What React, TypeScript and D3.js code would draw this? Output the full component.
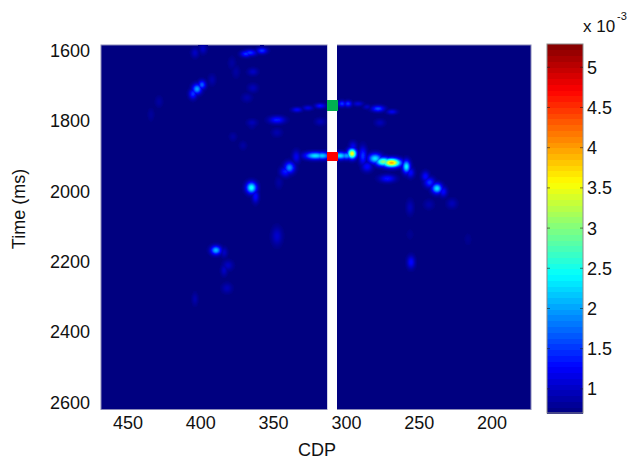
import React from "react";
import * as d3 from "d3";

const xTicks = [450, 400, 350, 300, 250, 200];
const yTicks = [1600, 1800, 2000, 2200, 2400, 2600];
const barTicks = [1, 1.5, 2, 2.5, 3, 3.5, 4, 4.5, 5];
const cMin = 0.7;
const cMax = 5.29;

// Amplitude anomalies (x 10^-3) read from the section
const blobCdp = [
  // main bright arc
  321.4, 316.7, 304.5, 299.9, 296.1, 288.7, 285.8, 280.3, 274.6, 269, 271.8, 258.8, 256, 245.7, 242.9, 237.8, 233.5, 339.1, 341.9, 334.4, 365.2, 362.4,
  // upper arc
  333.9, 326.4, 318, 303, 298.9, 292, 285.9, 278.3, 268.7,
  // scattered upper
  347.7, 364.8, 318, 277, 347.7, 295.5, 405.4, 402.6, 399.2, 366.2, 369, 358, 404, 398.5, 364.2, 364.2, 368.3, 378.6, 375.8, 392.3, 428.7, 434.2, 364.8, 377.9, 371,
  // scattered lower
  347.7, 389.6, 384, 381.3, 384, 382, 404, 346.3, 243.3, 227.5, 256.3, 255.6, 216.5, 256.3];
const blobTime = [
  1899, 1899, 1899, 1899, 1893, 1899, 1930, 1907, 1916, 1919, 1964, 1930, 1947, 1958, 1975, 1992, 2001, 1933, 1944, 1902, 1990, 2015,
  1768, 1763, 1757, 1751, 1751, 1751, 1760, 1765, 1774,
  1797, 1805, 1802, 1805, 1833, 1873, 1723, 1709, 1697, 1606, 1609, 1600, 1606, 1595, 1660, 1706, 1734, 1635, 1660, 1683, 1745, 1782, 1811, 1845, 1870,
  2128, 2168, 2174, 2211, 2225, 2276, 2307, 1975, 2038, 2035, 2046, 2202, 2137, 2123];
const blobAmp = [
  2.3, 2.2, 2.3, 2.0, 3.6, 1.5, 1.3, 2.3, 3, 3.95, 1.35, 2.4, 1.3, 1.3, 1.5, 2.3, 1.3, 1.9, 1.4, 1.2, 2.5, 1.3,
  1.25, 1.15, 1.35, 1.5, 1.5, 1.1, 1.0, 1.6, 1.2,
  1.4, 0.95, 0.95, 0.95, 0.9, 1.2, 1.5, 2.0, 1.7, 1.5, 1.5, 1.5, 1.0, 1.0, 1.0, 0.95, 0.9, 0.85, 0.85, 0.9, 0.85, 0.82, 0.85, 0.85, 0.85,
  1.05, 2.1, 1.0, 1.0, 1.0, 0.95, 0.9, 0.85, 0.88, 0.95, 0.95, 1.3, 0.78, 0.78];
const blobSpreadCdp = [
  4, 3, 3, 2.5, 1.7, 1.5, 2, 2.6, 3, 3.5, 3, 1.5, 1.5, 1.5, 2, 2, 1.5, 2, 2, 1.5, 2, 1.3,
  2, 2, 2, 1.5, 1.5, 2, 1.5, 2.5, 2,
  3, 2, 2, 2, 2, 1.5, 1.5, 1.8, 1.5, 2.5, 2, 2, 1.5, 1.5, 2, 2, 2, 1.5, 1.5, 1.5, 1.5, 1.3, 1.5, 1.5, 1.5,
  2, 2, 1.3, 2, 1.3, 2, 1.2, 1.5, 2, 2, 1.5, 1.5, 1.5, 1.5];
const blobSpreadTime = [
  6, 6, 6, 6, 8, 14, 8, 8, 7, 7, 6, 10, 8, 8, 8, 8, 8, 9, 8, 10, 9, 10,
  4, 4, 4, 5, 5, 4, 4, 5, 4,
  6, 6, 6, 6, 7, 8, 8, 8, 7, 5, 5, 5, 8, 8, 6, 7, 7, 10, 10, 9, 9, 10, 7, 7, 7,
  14, 7, 8, 8, 9, 8, 10, 10, 8, 8, 12, 10, 10, 9];
const blobWidthGain = 1.2;

const stops = d3.scaleLinear<string>()
  .domain([0, 0.125, 0.375, 0.625, 0.875, 1])
  .range(["#000080", "#0000ff", "#00ffff", "#ffff00", "#ff0000", "#800000"])
  .interpolate(d3.interpolateRgb)
  .clamp(true);
const BAR_STEPS = d3.range(64);

export default function App() {
  const left = 101, right = 531, top = 45, bottom = 409.5;
  const x = d3.scaleLinear().domain([450, 200]).range([128, 492]);
  const y = d3.scaleLinear().domain([1600, 2600]).range([50.7, 402]);
  const c = d3.scaleLinear().domain([cMin, cMax]).range([413, 44]);
  const colorOf = (v: number) => stops((v - cMin) / (cMax - cMin));

  const cells: React.ReactElement[] = [];
  const points = blobCdp.map((d, i) => ({
    px: x(d), py: y(blobTime[i]), a: blobAmp[i] - cMin,
    sx: Math.abs(x(blobSpreadCdp[i]) - x(0)) * blobWidthGain, sy: Math.abs(y(blobSpreadTime[i]) - y(0)) * blobWidthGain,
  }));
  const field = new Map<number, number>();
  points.forEach((b) => {
    const rx = Math.ceil(b.sx * 3), ry = Math.ceil(b.sy * 3);
    for (let py = Math.max(Math.ceil(top), Math.round(b.py) - ry); py < Math.min(Math.floor(bottom), Math.round(b.py) + ry); py++) {
      for (let px = Math.max(left, Math.round(b.px) - rx); px < Math.min(right, Math.round(b.px) + rx); px++) {
        const dx = (px + 0.5 - b.px) / b.sx, dy = (py + 0.5 - b.py) / b.sy;
        const v = b.a * Math.exp(-0.5 * (dx * dx + dy * dy));
        const key = py * 1000 + px;
        field.set(key, Math.max(field.get(key) ?? 0, v));
      }
    }
  });
  field.forEach((v, key) => {
    if (v < 0.03) return;
    const py = Math.floor(key / 1000), px = key % 1000;
    cells.push(<rect key={key} x={px} y={py} width={1} height={1} fill={colorOf(v + cMin)} />);
  });

  const stepH = (c.range()[0] - c.range()[1]) / BAR_STEPS.length;
  const font = "'Liberation Sans', Arial, sans-serif";
  return (
    <svg width={627} height={461} style={{ position: "absolute", left: 0, top: 0, background: "#fff" }} fontFamily={font} fill="#111">
      <defs>
        <filter id="soft" x="-5%" y="-5%" width="110%" height="110%">
          <feGaussianBlur stdDeviation={0.7} />
        </filter>
        <clipPath id="plot">
          <rect x={left} y={top} width={right - left} height={bottom - top} />
        </clipPath>
      </defs>
      <rect x={left} y={top} width={right - left} height={bottom - top} fill="#000080" stroke="#8a8ab8" strokeWidth={1} />
      <g clipPath="url(#plot)">
        <g shapeRendering="crispEdges" filter="url(#soft)">{cells}</g>
      </g>
      <rect x={327.5} y={top - 1} width={9.5} height={bottom - top + 2} fill="#fff" />
      <rect x={327} y={top} width={1} height={bottom - top} fill="#d0d0e8" />
      <rect x={327} y={100} width={11} height={11} fill="#00b050" />
      <rect x={327} y={152} width={11} height={9} fill="#ff0000" />

      {xTicks.map((t) => (
        <text key={t} x={x(t)} y={429} textAnchor="middle" fontSize={18}>{t}</text>
      ))}
      {yTicks.map((t) => (
        <text key={t} x={90} y={y(t) + 6.5} textAnchor="end" fontSize={18}>{t}</text>
      ))}
      <text x={317} y={456} textAnchor="middle" fontSize={18}>CDP</text>
      <text transform="translate(25,209) rotate(-90)" textAnchor="middle" fontSize={18}>Time (ms)</text>

      <g shapeRendering="crispEdges">
        {BAR_STEPS.map((i) => (
          <rect key={i} x={547} y={413 - (i + 1) * stepH} width={36} height={stepH + 0.5}
            fill={colorOf(cMin + ((i + 0.5) / BAR_STEPS.length) * (cMax - cMin))} />
        ))}
      </g>
      <rect x={547} y={44} width={36} height={369} fill="none" stroke="#8c8c8c" strokeWidth={1} />
      {barTicks.map((t) => (
        <g key={t}>
          <line x1={547} x2={550} y1={c(t)} y2={c(t)} stroke="#222" strokeOpacity={0.6} />
          <line x1={580} x2={583} y1={c(t)} y2={c(t)} stroke="#222" strokeOpacity={0.6} />
          <text x={587} y={c(t) + 6.5} fontSize={18}>{t}</text>
        </g>
      ))}
      <text x={583} y={32} fontSize={17}>x 10</text>
      <text x={617} y={20} fontSize={11}>-3</text>
    </svg>
  );
}
